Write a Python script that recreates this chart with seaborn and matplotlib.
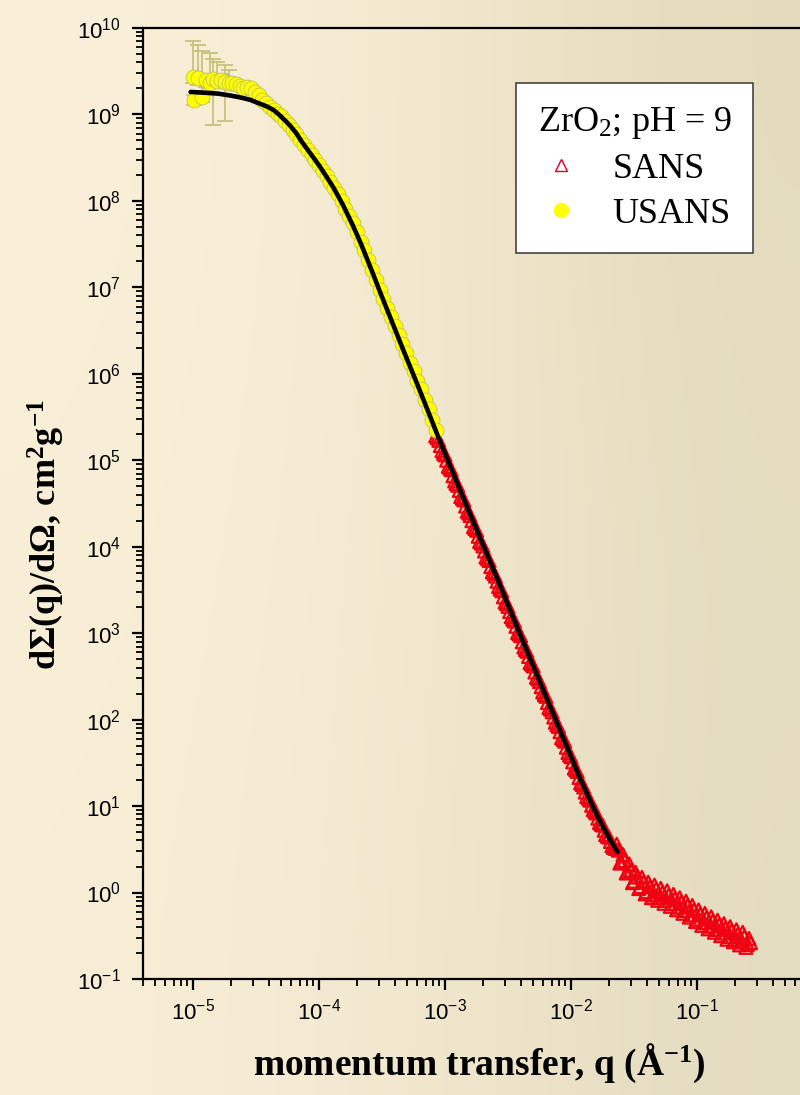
import numpy as np
import pandas as pd
import matplotlib
matplotlib.use("Agg")
import matplotlib.pyplot as plt
import seaborn as sns
from matplotlib.lines import Line2D
from matplotlib.ticker import LogLocator, FixedLocator, NullFormatter

# ---------------- data ----------------
usans_q = [1.00e-5, 1.02e-5, 1.10e-5, 1.17e-5, 1.26e-5, 1.35e-5, 1.45e-5, 1.55e-5, 1.66e-5, 1.78e-5,
           1.91e-5, 2.04e-5, 2.19e-5, 2.34e-5, 2.51e-5, 2.69e-5, 2.88e-5, 3.09e-5, 3.31e-5, 3.55e-5,
           3.80e-5, 4.07e-5, 4.37e-5, 4.68e-5, 5.01e-5, 5.37e-5, 5.75e-5, 6.17e-5, 6.61e-5, 7.08e-5,
           7.59e-5, 8.13e-5, 8.71e-5, 9.33e-5, 1.00e-4, 1.07e-4, 1.15e-4, 1.23e-4, 1.32e-4, 1.41e-4,
           1.51e-4, 1.62e-4, 1.74e-4, 1.86e-4, 2.00e-4, 2.14e-4, 2.29e-4, 2.45e-4, 2.63e-4, 2.82e-4,
           3.02e-4, 3.24e-4, 3.47e-4, 3.72e-4, 3.98e-4, 4.27e-4, 4.57e-4, 4.90e-4, 5.25e-4, 5.62e-4,
           6.03e-4, 6.46e-4, 6.92e-4, 7.41e-4, 7.94e-4, 8.51e-4]
usans_I = [2.69e9, 1.48e9, 2.63e9, 1.58e9, 2.51e9, 2.34e9, 2.57e9, 2.45e9, 2.51e9, 2.40e9,
           2.34e9, 2.29e9, 2.24e9, 2.14e9, 2.04e9, 2.09e9, 2.00e9, 1.82e9, 1.66e9, 1.48e9,
           1.35e9, 1.23e9, 1.12e9, 1.02e9, 9.55e8, 8.51e8, 7.59e8, 6.61e8, 5.89e8, 5.13e8,
           4.47e8, 3.89e8, 3.39e8, 2.95e8, 2.57e8, 2.24e8, 1.95e8, 1.66e8, 1.41e8, 1.20e8,
           1.00e8, 8.13e7, 6.76e7, 5.50e7, 4.37e7, 3.39e7, 2.69e7, 2.09e7, 1.58e7, 1.23e7,
           9.33e6, 7.41e6, 5.75e6, 4.57e6, 3.55e6, 2.82e6, 2.19e6, 1.74e6, 1.35e6, 1.07e6,
           8.32e5, 6.61e5, 5.01e5, 3.89e5, 2.95e5, 2.24e5]

# error bars of the first USANS points (upper / lower ends of each bar)
usans_err_q = [1.00e-5, 1.02e-5, 1.10e-5, 1.17e-5, 1.26e-5, 1.35e-5, 1.45e-5, 1.55e-5, 1.66e-5, 1.78e-5, 1.91e-5]
usans_err_I = [2.69e9, 1.48e9, 2.63e9, 1.58e9, 2.51e9, 2.34e9, 2.57e9, 2.45e9, 2.51e9, 2.40e9, 2.34e9]
usans_err_top = [7.1e9, 1.7e9, 6.3e9, 5.4e9, 2.9e9, 5.1e9, 4.4e9, 4.0e9, 2.9e9, 3.7e9, 3.3e9]
usans_err_bottom = [2.3e9, 1.3e9, 2.2e9, 1.4e9, 2.1e9, 2.0e9, 7.6e8, 2.1e9, 2.2e9, 8.3e8, 2.0e9]

sans_q = [8.41e-4, 8.91e-4, 9.44e-4, 1.00e-3, 1.06e-3, 1.12e-3, 1.19e-3, 1.26e-3, 1.33e-3, 1.41e-3,
          1.50e-3, 1.58e-3, 1.68e-3, 1.78e-3, 1.88e-3, 2.00e-3, 2.11e-3, 2.24e-3, 2.37e-3, 2.51e-3,
          2.66e-3, 2.82e-3, 2.99e-3, 3.16e-3, 3.35e-3, 3.55e-3, 3.76e-3, 3.98e-3, 4.22e-3, 4.47e-3,
          4.73e-3, 5.01e-3, 5.31e-3, 5.62e-3, 5.96e-3, 6.31e-3, 6.68e-3, 7.08e-3, 7.50e-3, 7.94e-3,
          8.41e-3, 8.91e-3, 9.44e-3, 1.00e-2, 1.06e-2, 1.12e-2, 1.19e-2, 1.26e-2, 1.33e-2, 1.41e-2,
          1.50e-2, 1.58e-2, 1.68e-2, 1.78e-2, 1.88e-2, 2.00e-2, 2.11e-2, 2.24e-2, 2.37e-2, 2.51e-2,
          2.66e-2, 2.82e-2, 2.99e-2, 3.16e-2, 3.35e-2, 3.55e-2, 3.76e-2, 3.98e-2, 4.22e-2, 4.47e-2,
          4.73e-2, 5.01e-2, 5.31e-2, 5.62e-2, 5.96e-2, 6.31e-2, 6.68e-2, 7.08e-2, 7.50e-2, 7.94e-2,
          8.41e-2, 8.91e-2, 9.44e-2, 0.100, 0.106, 0.112, 0.119, 0.126, 0.133, 0.141,
          0.150, 0.158, 0.168, 0.178, 0.188, 0.200, 0.211, 0.224, 0.237, 0.251, 0.266]
sans_I = [1.91e5, 1.70e5, 1.29e5, 1.15e5, 8.51e4, 7.76e4, 5.75e4, 5.13e4, 3.80e4, 3.47e4,
          2.57e4, 2.29e4, 1.70e4, 1.55e4, 1.15e4, 1.02e4, 7.59e3, 6.92e3, 5.13e3, 4.57e3,
          3.47e3, 3.09e3, 2.29e3, 2.04e3, 1.55e3, 1.38e3, 1.02e3, 933, 692, 617,
          457, 417, 309, 275, 209, 186, 138, 123, 93.3, 83.2,
          61.7, 56.2, 41.7, 37.2, 27.5, 25.1, 18.6, 16.6, 12.9, 11.7,
          9.12, 8.32, 6.46, 6.03, 4.68, 4.37, 3.47, 3.24, 3.09, 2.24,
          2.34, 1.74, 1.82, 1.35, 1.51, 1.17, 1.32, 1.02, 1.17, 0.933,
          1.10, 0.871, 1.00, 0.813, 0.933, 0.741, 0.851, 0.676, 0.776, 0.617,
          0.708, 0.550, 0.631, 0.490, 0.562, 0.447, 0.513, 0.407, 0.468, 0.372,
          0.427, 0.339, 0.389, 0.309, 0.363, 0.288, 0.331, 0.269, 0.309, 0.251, 0.263]

# second detector setting of the SANS run (interleaved q values)
sans2_q = [8.66e-4, 9.17e-4, 9.72e-4, 1.029e-3, 1.090e-3, 1.155e-3, 1.223e-3, 1.296e-3, 1.373e-3, 1.455e-3,
           1.540e-3, 1.632e-3, 1.728e-3, 1.831e-3, 1.939e-3, 2.054e-3, 2.175e-3, 2.304e-3, 2.441e-3, 2.585e-3,
           2.738e-3, 2.901e-3, 3.073e-3, 3.255e-3, 3.447e-3, 3.652e-3, 3.868e-3, 4.097e-3, 4.340e-3, 4.597e-3,
           4.870e-3, 5.158e-3, 5.464e-3, 5.788e-3, 6.130e-3, 6.494e-3, 6.879e-3, 7.286e-3, 7.718e-3, 8.175e-3,
           8.660e-3, 9.173e-3, 9.716e-3, 1.029e-2, 1.090e-2, 1.155e-2, 1.223e-2, 1.296e-2, 1.373e-2, 1.455e-2,
           1.540e-2, 1.632e-2, 1.728e-2, 1.831e-2, 1.939e-2, 2.054e-2, 2.175e-2, 2.304e-2, 2.441e-2, 2.585e-2,
           2.738e-2, 2.901e-2, 3.073e-2, 3.255e-2, 3.447e-2, 3.652e-2, 3.868e-2, 4.097e-2, 4.340e-2, 4.597e-2,
           4.870e-2, 5.158e-2, 5.464e-2, 5.788e-2, 6.130e-2, 6.494e-2, 6.879e-2, 7.286e-2, 7.718e-2, 8.175e-2,
           8.660e-2, 9.173e-2, 9.716e-2, 0.1029, 0.1090, 0.1155, 0.1223, 0.1296, 0.1373, 0.1455,
           0.1540, 0.1632, 0.1728, 0.1831, 0.1939, 0.2054, 0.2175, 0.2304, 0.2441, 0.2585]
sans2_I = [1.82e5, 1.48e5, 1.20e5, 1.00e5, 8.13e4, 6.61e4, 5.37e4, 4.47e4, 3.63e4, 2.95e4,
           2.45e4, 2.00e4, 1.62e4, 1.32e4, 1.10e4, 8.91e3, 7.24e3, 5.89e3, 4.90e3, 3.98e3,
           3.24e3, 2.63e3, 2.19e3, 1.78e3, 1.45e3, 1.20e3, 977, 794, 646, 537,
           437, 355, 295, 240, 195, 158, 132, 107, 87.1, 72.4,
           58.9, 47.9, 38.9, 32.4, 26.3, 21.4, 17.8, 14.5, 12.3, 10.2,
           8.71, 7.24, 6.17, 5.25, 4.47, 3.89, 3.31, 3.63, 2.19, 2.75,
           1.68, 2.14, 1.30, 1.72, 1.11, 1.50, 0.966, 1.32, 0.871, 1.22,
           0.813, 1.12, 0.750, 1.05, 0.692, 0.955, 0.631, 0.871, 0.575, 0.794,
           0.519, 0.708, 0.462, 0.631, 0.417, 0.575, 0.380, 0.525, 0.347, 0.479,
           0.316, 0.437, 0.288, 0.403, 0.269, 0.372, 0.248, 0.347, 0.232, 0.295]

fit_q = [9.55e-6, 1.26e-5, 1.58e-5, 1.95e-5, 2.34e-5, 2.82e-5, 3.31e-5, 3.89e-5, 4.37e-5, 4.79e-5,
         5.37e-5, 5.89e-5, 6.61e-5, 7.24e-5, 7.94e-5, 8.91e-5, 1.00e-4, 1.12e-4, 1.29e-4, 1.41e-4,
         1.55e-4, 1.70e-4, 1.86e-4, 2.14e-4, 2.40e-4, 2.69e-4, 3.02e-4, 3.47e-4, 3.89e-4, 4.47e-4,
         5.01e-4, 5.75e-4, 6.61e-4, 7.59e-4, 8.71e-4, 1.10e-3, 1.38e-3, 1.74e-3, 2.14e-3, 2.63e-3,
         3.09e-3, 3.98e-3, 5.01e-3, 6.31e-3, 7.94e-3, 1.00e-2, 1.17e-2, 1.35e-2, 1.55e-2, 1.78e-2,
         2.04e-2, 2.34e-2]
fit_I = [1.82e9, 1.78e9, 1.74e9, 1.66e9, 1.58e9, 1.48e9, 1.35e9, 1.23e9, 1.12e9, 1.00e9,
         8.51e8, 7.41e8, 6.03e8, 4.90e8, 4.07e8, 3.24e8, 2.57e8, 2.00e8, 1.45e8, 1.15e8,
         8.91e7, 6.76e7, 5.13e7, 3.24e7, 2.14e7, 1.41e7, 9.12e6, 5.50e6, 3.63e6, 2.19e6,
         1.45e6, 8.91e5, 5.37e5, 3.24e5, 1.95e5, 8.51e4, 3.80e4, 1.70e4, 8.32e3, 4.07e3,
         2.29e3, 933, 417, 186, 83.2, 37.2, 21.4, 13.5, 8.71, 5.89,
         4.07, 2.95]

series_labels = ["SANS", "USANS"]
legend_title = "ZrO$_2$; pH = 9"
x_label = "momentum transfer, q (Å$^{\\mathbf{-1}}$)"
y_label = "dΣ(q)/dΩ, cm$^{\\mathbf{2}}$g$^{\\mathbf{-1}}$"
x_major = [1e-5, 1e-4, 1e-3, 1e-2, 1e-1]

# ---------------- styling ----------------
sns.set_theme(style="ticks")
plt.rcParams["font.family"] = ["Liberation Sans", "DejaVu Sans"]
plt.rcParams["mathtext.fontset"] = "custom"
plt.rcParams["mathtext.rm"] = "Liberation Serif"
plt.rcParams["mathtext.it"] = "Liberation Serif:italic"
plt.rcParams["mathtext.bf"] = "Liberation Serif:bold"
plt.rcParams["axes.unicode_minus"] = True
plt.rcParams["text.color"] = "black"
plt.rcParams["axes.labelcolor"] = "black"
plt.rcParams["xtick.color"] = "black"
plt.rcParams["ytick.color"] = "black"

W, H = 800, 1095
fig = plt.figure(figsize=(W / 100, H / 100), dpi=100)

# beige gradient background
bg = fig.add_axes([0, 0, 1, 1], zorder=-10)
grad = np.array([
    [[250, 239, 216], [245, 235, 210], [228, 219, 189]],
    [[249, 238, 214], [244, 234, 209], [229, 221, 193]],
    [[248, 237, 213], [243, 233, 208], [228, 220, 192]],
]) / 255.0
bg.imshow(grad, extent=[0, 1, 0, 1], aspect="auto", interpolation="bicubic", origin="upper")
bg.set_axis_off()

ax = fig.add_axes([143 / W, 1 - 979 / H, 680 / W, 951 / H])
ax.set_facecolor("none")
ax.set_xscale("log")
ax.set_yscale("log")

# error bars
err_lo = [i - b for i, b in zip(usans_err_I, usans_err_bottom)]
err_hi = [t - i for i, t in zip(usans_err_I, usans_err_top)]
ax.errorbar(usans_err_q, usans_err_I, yerr=[err_lo, err_hi], fmt="none",
            ecolor="#c8c27e", elinewidth=1.3, capsize=6, capthick=1.3, zorder=2)

sans_df = pd.DataFrame({"q": sans_q + sans2_q, "I": sans_I + sans2_I})
usans_df = pd.DataFrame({"q": usans_q, "I": usans_I})
fit_df = pd.DataFrame({"q": fit_q, "I": fit_I})

sns.scatterplot(data=sans_df, x="q", y="I", marker="^", s=85, color="#ff0000",
                edgecolor="#f00010", linewidth=1.6, ax=ax, zorder=3, legend=False)
ax.collections[-1].set_facecolor("none")

sns.scatterplot(data=usans_df, x="q", y="I", marker="o", s=115, color="#ffff00",
                edgecolor="#c0c060", linewidth=0.6, ax=ax, zorder=4, legend=False)

sns.lineplot(data=fit_df, x="q", y="I", color="black", linewidth=3.3, sort=False,
             estimator=None, ax=ax, zorder=5, legend=False)

ax.set_xlim(4e-6, 1.0)
ax.set_ylim(1e-1, 1e10)

ax.xaxis.set_major_locator(FixedLocator(x_major))
ax.xaxis.set_minor_locator(LogLocator(base=10, subs=np.arange(2, 10), numticks=20))
ax.yaxis.set_major_locator(LogLocator(base=10, numticks=20))
ax.yaxis.set_minor_locator(LogLocator(base=10, subs=np.arange(2, 10), numticks=20))
ax.xaxis.set_minor_formatter(NullFormatter())
ax.yaxis.set_minor_formatter(NullFormatter())

for s in ax.spines.values():
    s.set_linewidth(1.6)
    s.set_color("black")
ax.tick_params(which="major", direction="out", length=8, width=1.6, labelsize=16,
               colors="black", top=False, right=False)
ax.tick_params(axis="x", which="major", pad=6)
ax.tick_params(axis="y", which="major", pad=8)
ax.tick_params(which="minor", direction="out", length=5, width=1.3, top=False, right=False)

ax.set_xlabel(x_label, fontfamily="Liberation Serif", fontweight="bold", fontsize=27)
ax.set_ylabel(y_label, fontfamily="Liberation Serif", fontweight="bold", fontsize=26)
ax.xaxis.set_label_coords(0.495, -0.066)
ax.yaxis.set_label_coords(-0.112, 0.467)

handles = [
    Line2D([], [], ls="none", marker="^", markersize=9, markerfacecolor="none",
           markeredgecolor="#e00020", markeredgewidth=1.0),
    Line2D([], [], ls="none", marker="o", markersize=10, markerfacecolor="#ffff00",
           markeredgecolor="#ffff00"),
]
leg = ax.legend(handles, series_labels, title=legend_title,
                loc="upper left", bbox_to_anchor=(516 / W, 1 - 83 / H),
                bbox_transform=fig.transFigure, borderaxespad=0,
                prop={"family": "Liberation Serif", "size": 26},
                title_fontproperties={"family": "Liberation Serif", "size": 26},
                frameon=True, fancybox=False, framealpha=1, facecolor="white",
                edgecolor="#444444", borderpad=0.6, handlelength=1.22,
                handletextpad=0.83, labelspacing=0.33)
leg.get_frame().set_linewidth(1.2)

fig.savefig("out.png", dpi=100)
